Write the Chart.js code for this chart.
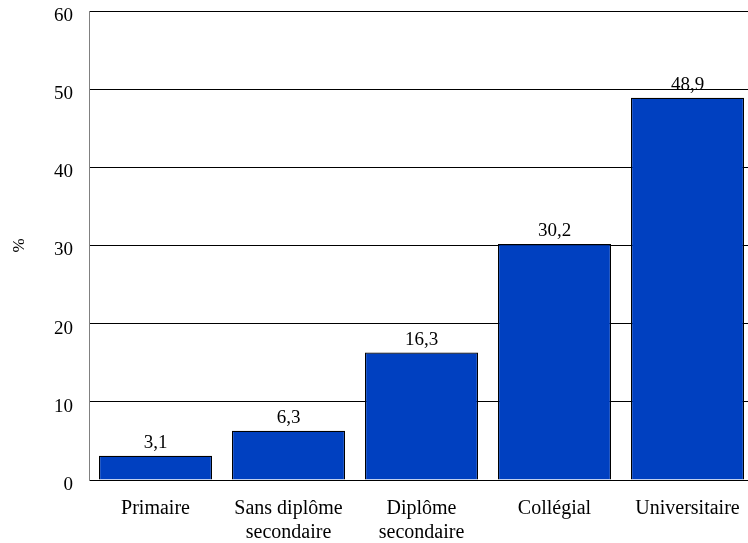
<!DOCTYPE html>
<html>
<head>
<meta charset="utf-8">
<script src="https://cdn.jsdelivr.net/npm/chart.js@4.4.0/dist/chart.umd.min.js"></script>
<style>
  html, body { margin: 0; padding: 0; overflow: hidden; background: #fff; }
  #wrap { width: 754px; height: 543px; }
</style>
</head>
<body>
<div id="wrap"><canvas id="niveau-scolarite"></canvas></div>
<script>
var categories = [
    "Primaire",
    ["Sans diplôme", "secondaire"],
    ["Diplôme", "secondaire"],
    "Collégial",
    "Universitaire"
];
var valeurs = [3.1, 6.3, 16.3, 30.2, 48.9];
var yTicks = [0, 10, 20, 30, 40, 50, 60];

var police = "'Liberation Serif', 'Times New Roman', serif";

// étiquettes au-dessus des barres
var etiquettes = {
    id: 'etiquettes',
    afterDatasetsDraw: function(chart) {
        var ctx = chart.ctx;
        var meta = chart.getDatasetMeta(0);
        ctx.save();
        ctx.font = "19px " + police;
        ctx.fillStyle = "#000";
        ctx.textAlign = "center";
        ctx.textBaseline = "bottom";
        meta.data.forEach(function(bar, i) {
            ctx.fillText(valeurs[i].toFixed(1).replace('.', ','), bar.x, bar.y - 3);
        });
        ctx.restore();
    }
};

var ctx = document.getElementById("niveau-scolarite").getContext('2d');
var chart = new Chart(ctx, {
    type: 'bar',
    data: {
        labels: categories,
        datasets: [{
            data: valeurs,
            backgroundColor: "#0040C0",
            borderColor: "#000",
            borderWidth: 1.2,
            barPercentage: 0.85,
            categoryPercentage: 1.0
        }]
    },
    options: {
        responsive: true,
        maintainAspectRatio: false,
        animation: false,
        layout: { padding: { top: 11, right: 0, left: 0, bottom: 0 } },
        plugins: {
            legend: { display: false },
            tooltip: { enabled: false }
        },
        scales: {
            x: {
                grid: { display: false, drawTicks: false },
                border: { display: true, color: "#000", width: 1 },
                ticks: {
                    color: "#000",
                    font: { family: police, size: 20 },
                    padding: 17,
                    maxRotation: 0,
                    autoSkip: false
                },
                afterFit: function(scale) {
                    scale.height = 63;
                    scale.paddingLeft = 0;
                    scale.paddingRight = 0;
                }
            },
            y: {
                min: 0,
                max: 60,
                afterBuildTicks: function(scale) {
                    scale.ticks = yTicks.map(function(v) { return { value: v }; });
                },
                grid: { color: "#000", lineWidth: 1, drawTicks: false },
                border: { display: true, color: "#808080", width: 1 },
                ticks: {
                    color: "#000",
                    font: { family: police, size: 19 },
                    padding: 16,
                    labelOffset: 5
                },
                title: {
                    display: true,
                    text: "%",
                    color: "#000",
                    font: { family: police, size: 17 },
                    padding: { top: 9, bottom: 0 }
                },
                afterFit: function(scale) {
                    scale.width = 89;
                    scale.paddingTop = 0;
                    scale.paddingBottom = 0;
                }
            }
        }
    },
    plugins: [etiquettes]
});
</script>
</body>
</html>
